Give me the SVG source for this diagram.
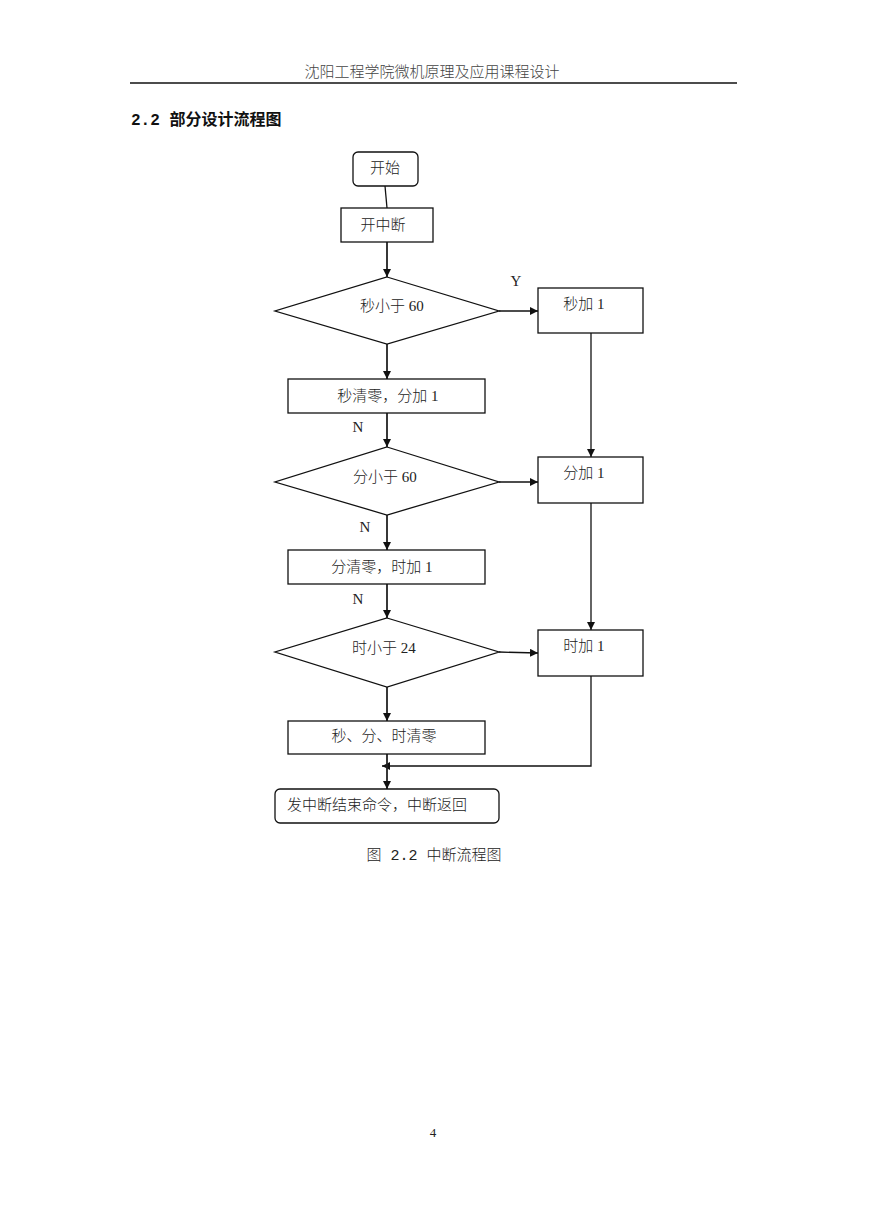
<svg xmlns="http://www.w3.org/2000/svg" width="869" height="1228" viewBox="0 0 869 1228">
<style>
.bg{fill:#ffffff}
.box{fill:#ffffff;stroke:#111;stroke-width:1.3}
.t{font-family:"Liberation Serif","Noto Sans CJK SC",serif;font-size:15px;font-weight:300;fill:#222;dominant-baseline:central}
.m{text-anchor:middle}
.ln{fill:none;stroke:#111;stroke-width:1.3}
.lnb{fill:none;stroke:#222;stroke-width:1.8}
.title{font-family:"Liberation Mono","Noto Sans CJK SC",monospace;font-size:16px;font-weight:bold;fill:#111;dominant-baseline:central}
.cap{font-family:"Liberation Mono","Noto Sans CJK SC",monospace;font-size:15px;font-weight:300;fill:#222;dominant-baseline:central;text-anchor:middle}
</style>
<defs>
<marker id="ah" viewBox="0 0 10 10" refX="10" refY="5" markerWidth="8" markerHeight="8" markerUnits="userSpaceOnUse" orient="auto">
<path d="M0,0 L10,5 L0,10 Z" fill="#111"/>
</marker>
</defs>
<rect class="bg" x="0" y="0" width="869" height="1228"/>
<g id="page-header">
<text class="t m" x="432" y="72" style="fill:#444">沈阳工程学院微机原理及应用课程设计</text>
<line x1="130" y1="83" x2="737" y2="83" stroke="#111" stroke-width="1.3"/>
<text class="title" x="131" y="121">2.2 部分设计流程图</text>
</g>
<g id="connectors">
<line class="ln" x1="385" y1="186" x2="387" y2="208"/>
<line class="lnb" x1="387" y1="242" x2="387" y2="277" marker-end="url(#ah)"/>
<line class="ln" x1="499" y1="311" x2="538" y2="311" marker-end="url(#ah)"/>
<line class="lnb" x1="387" y1="344" x2="387" y2="379" marker-end="url(#ah)"/>
<line class="lnb" x1="387" y1="413" x2="387" y2="447" marker-end="url(#ah)"/>
<line class="ln" x1="591" y1="333" x2="591" y2="457" marker-end="url(#ah)"/>
<line class="ln" x1="499" y1="482" x2="538" y2="482" marker-end="url(#ah)"/>
<line class="lnb" x1="387" y1="515" x2="387" y2="550" marker-end="url(#ah)"/>
<line class="lnb" x1="387" y1="584" x2="387" y2="618" marker-end="url(#ah)"/>
<line class="ln" x1="591" y1="503" x2="591" y2="630" marker-end="url(#ah)"/>
<line class="ln" x1="499" y1="652" x2="538" y2="653" marker-end="url(#ah)"/>
<line class="lnb" x1="387" y1="687" x2="387" y2="721" marker-end="url(#ah)"/>
<polyline class="ln" points="591,676 591,766 382,766" marker-end="url(#ah)"/>
<line class="lnb" x1="387" y1="754" x2="387" y2="789" marker-end="url(#ah)"/>
<text class="t m" x="516" y="281">Y</text>
<text class="t m" x="358" y="427">N</text>
<text class="t m" x="365" y="527">N</text>
<text class="t m" x="358" y="599">N</text>
</g>
<g id="start">
<rect class="box" x="353" y="152" width="65" height="34" rx="5"/>
<text class="t m" x="385" y="168">开始</text>
</g>
<g id="enable-int">
<rect class="box" x="341" y="208" width="92" height="34"/>
<text class="t m" x="383" y="225">开中断</text>
</g>
<g id="sec-lt-60">
<polygon class="box" points="387,277 499,311 387,344 275,311"/>
<text class="t m" x="392" y="306">秒小于 60</text>
</g>
<g id="sec-inc">
<rect class="box" x="538" y="288" width="105" height="45"/>
<text class="t m" x="584" y="304">秒加 1</text>
</g>
<g id="sec-clear">
<rect class="box" x="288" y="379" width="197" height="34"/>
<text class="t m" x="388" y="396">秒清零，分加 1</text>
</g>
<g id="min-lt-60">
<polygon class="box" points="387,447 499,482 387,515 275,482"/>
<text class="t m" x="385" y="477">分小于 60</text>
</g>
<g id="min-inc">
<rect class="box" x="538" y="457" width="105" height="46"/>
<text class="t m" x="584" y="473">分加 1</text>
</g>
<g id="min-clear">
<rect class="box" x="288" y="550" width="197" height="34"/>
<text class="t m" x="382" y="567">分清零，时加 1</text>
</g>
<g id="hour-lt-24">
<polygon class="box" points="387,618 499,652 387,687 275,652"/>
<text class="t m" x="384" y="648">时小于 24</text>
</g>
<g id="hour-inc">
<rect class="box" x="538" y="630" width="105" height="46"/>
<text class="t m" x="584" y="646">时加 1</text>
</g>
<g id="all-clear">
<rect class="box" x="288" y="721" width="197" height="33"/>
<text class="t m" x="384" y="736">秒、分、时清零</text>
</g>
<g id="end">
<rect class="box" x="275" y="789" width="224" height="34" rx="5"/>
<text class="t" x="287" y="805">发中断结束命令，中断返回</text>
</g>
<g id="caption">
<text class="cap" x="434" y="856">图 2.2 中断流程图</text>
<text class="t m" x="433" y="1132" style="font-size:13px">4</text>
</g>
</svg>
